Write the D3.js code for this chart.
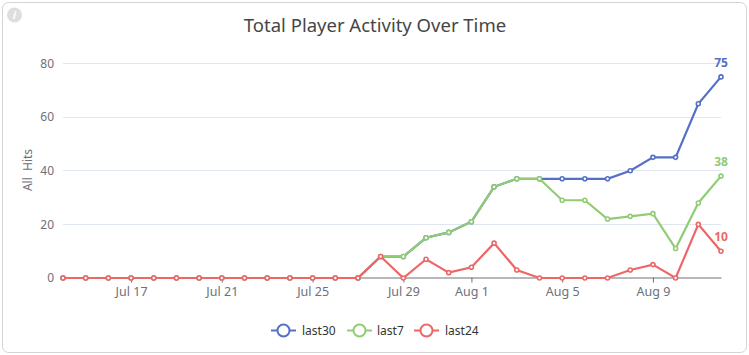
<!DOCTYPE html>
<html>
<head>
<meta charset="utf-8">
<script src="https://cdn.jsdelivr.net/npm/d3@7"></script>
<style>
  html, body { margin: 0; padding: 0; background: #fff; overflow: hidden; }
  text { font-family: "Noto Sans", "Open Sans", sans-serif; }
</style>
</head>
<body>
<svg id="chart" width="749" height="355"></svg>
<script>
const dates = [
  'Jul 14', 'Jul 15', 'Jul 16', 'Jul 17', 'Jul 18', 'Jul 19', 'Jul 20', 'Jul 21', 'Jul 22', 'Jul 23',
  'Jul 24', 'Jul 25', 'Jul 26', 'Jul 27', 'Jul 28', 'Jul 29', 'Jul 30', 'Jul 31', 'Aug 1', 'Aug 2',
  'Aug 3', 'Aug 4', 'Aug 5', 'Aug 6', 'Aug 7', 'Aug 8', 'Aug 9', 'Aug 10', 'Aug 11', 'Aug 12'
]
const last30 = [0, 0, 0, 0, 0, 0, 0, 0, 0, 0, 0, 0, 0, 0, 8, 8, 15, 17, 21, 34, 37, 37, 37, 37, 37, 40, 45, 45, 65, 75]
const last7 = [0, 0, 0, 0, 0, 0, 0, 0, 0, 0, 0, 0, 0, 0, 8, 8, 15, 17, 21, 34, 37, 37, 29, 29, 22, 23, 24, 11, 28, 38]
const last24 = [0, 0, 0, 0, 0, 0, 0, 0, 0, 0, 0, 0, 0, 0, 8, 0, 7, 2, 4, 13, 3, 0, 0, 0, 0, 3, 5, 0, 20, 10]
const xTickLabels = ['Jul 17', 'Jul 21', 'Jul 25', 'Jul 29', 'Aug 1', 'Aug 5', 'Aug 9']
const yTickValues = [0, 20, 40, 60, 80]

const series = [
  { name: 'last30', values: last30, color: '#5470c6', legendX: 271, textX: 302 },
  { name: 'last7', values: last7, color: '#91cc75', legendX: 347, textX: 377 },
  { name: 'last24', values: last24, color: '#ee6666', legendX: 414, textX: 445 }
]

const svg = d3.select('#chart')

// card behind the chart
svg.append('rect')
  .attr('x', 2.5)
  .attr('y', 2.5)
  .attr('width', 744)
  .attr('height', 350)
  .attr('rx', 6)
  .attr('fill', '#fff')
  .attr('stroke', '#d4d4d4')

// info badge, top left
svg.append('circle')
  .attr('cx', 14.5)
  .attr('cy', 15)
  .attr('r', 7.5)
  .attr('fill', '#dedede')
svg.append('text')
  .attr('x', 14.5)
  .attr('y', 19)
  .attr('text-anchor', 'middle')
  .attr('font-size', 11)
  .attr('font-style', 'italic')
  .attr('font-weight', 700)
  .attr('fill', '#fff')
  .text('i')

svg.append('text')
  .attr('x', 375)
  .attr('y', 32)
  .attr('text-anchor', 'middle')
  .attr('font-size', 18.5)
  .attr('fill', '#464646')
  .text('Total Player Activity Over Time')

const x = d3.scalePoint().domain(dates).range([63, 721])
const y = d3.scaleLinear().domain([0, 80]).range([278, 63.5])

const yAxis = svg.append('g')
  .attr('transform', 'translate(63,0)')
  .call(d3.axisLeft(y).tickValues(yTickValues).tickSize(0).tickPadding(9))
yAxis.select('.domain').remove()
yAxis.selectAll('text')
  .attr('font-size', 12)
  .attr('font-family', null)
  .attr('fill', '#6e7079')

svg.append('g')
  .selectAll('line')
  .data(yTickValues.filter(d => d > 0))
  .join('line')
  .attr('x1', 63)
  .attr('x2', 721)
  .attr('y1', d => Math.floor(y(d)) + 0.5)
  .attr('y2', d => Math.floor(y(d)) + 0.5)
  .attr('stroke', '#e0e6f1')

const xAxis = svg.append('g')
  .attr('transform', 'translate(0,277.5)')
  .call(d3.axisBottom(x).tickValues(xTickLabels).tickSize(5).tickSizeOuter(0).tickPadding(5))
xAxis.select('.domain').attr('stroke', '#6e7079')
xAxis.selectAll('line').attr('stroke', '#6e7079')
xAxis.selectAll('text')
  .attr('font-size', 12.5)
  .attr('font-family', null)
  .attr('fill', '#6e7079')

svg.append('text')
  .attr('transform', 'translate(32,170) rotate(-90)')
  .attr('text-anchor', 'middle')
  .attr('font-size', 12)
  .attr('fill', '#6e7079')
  .attr('xml:space', 'preserve')
  .text('All  Hits')

const line = d3.line()
  .x((d, i) => x(dates[i]))
  .y(d => y(d))

const groups = svg.append('g')
  .selectAll('g')
  .data(series)
  .join('g')

groups.append('path')
  .attr('d', d => line(d.values))
  .attr('fill', 'none')
  .attr('stroke', d => d.color)
  .attr('stroke-width', 2.2)

groups.each(function (s) {
  const g = d3.select(this)
  g.selectAll('circle')
    .data(s.values)
    .join('circle')
    .attr('cx', (d, i) => x(dates[i]))
    .attr('cy', d => y(d))
    .attr('r', 2)
    .attr('fill', '#fff')
    .attr('stroke', s.color)
    .attr('stroke-width', 1.6)

  // only the last point carries a label
  const lastValue = s.values[s.values.length - 1]
  g.append('text')
    .attr('x', x(dates[dates.length - 1]))
    .attr('y', y(lastValue) - 10)
    .attr('text-anchor', 'middle')
    .attr('font-size', 12)
    .attr('font-weight', 700)
    .attr('fill', s.color)
    .text(lastValue)
})

const legend = svg.append('g')
  .selectAll('g')
  .data(series)
  .join('g')
  .attr('transform', 'translate(0,330.5)')

legend.append('line')
  .attr('x1', d => d.legendX)
  .attr('x2', d => d.legendX + 25)
  .attr('stroke', d => d.color)
  .attr('stroke-width', 2)
legend.append('circle')
  .attr('cx', d => d.legendX + 12.5)
  .attr('r', 6)
  .attr('fill', '#fff')
  .attr('stroke', d => d.color)
  .attr('stroke-width', 2)
legend.append('text')
  .attr('x', d => d.textX)
  .attr('y', 4)
  .attr('font-size', 12)
  .attr('fill', '#333')
  .text(d => d.name)
</script>
</body>
</html>
